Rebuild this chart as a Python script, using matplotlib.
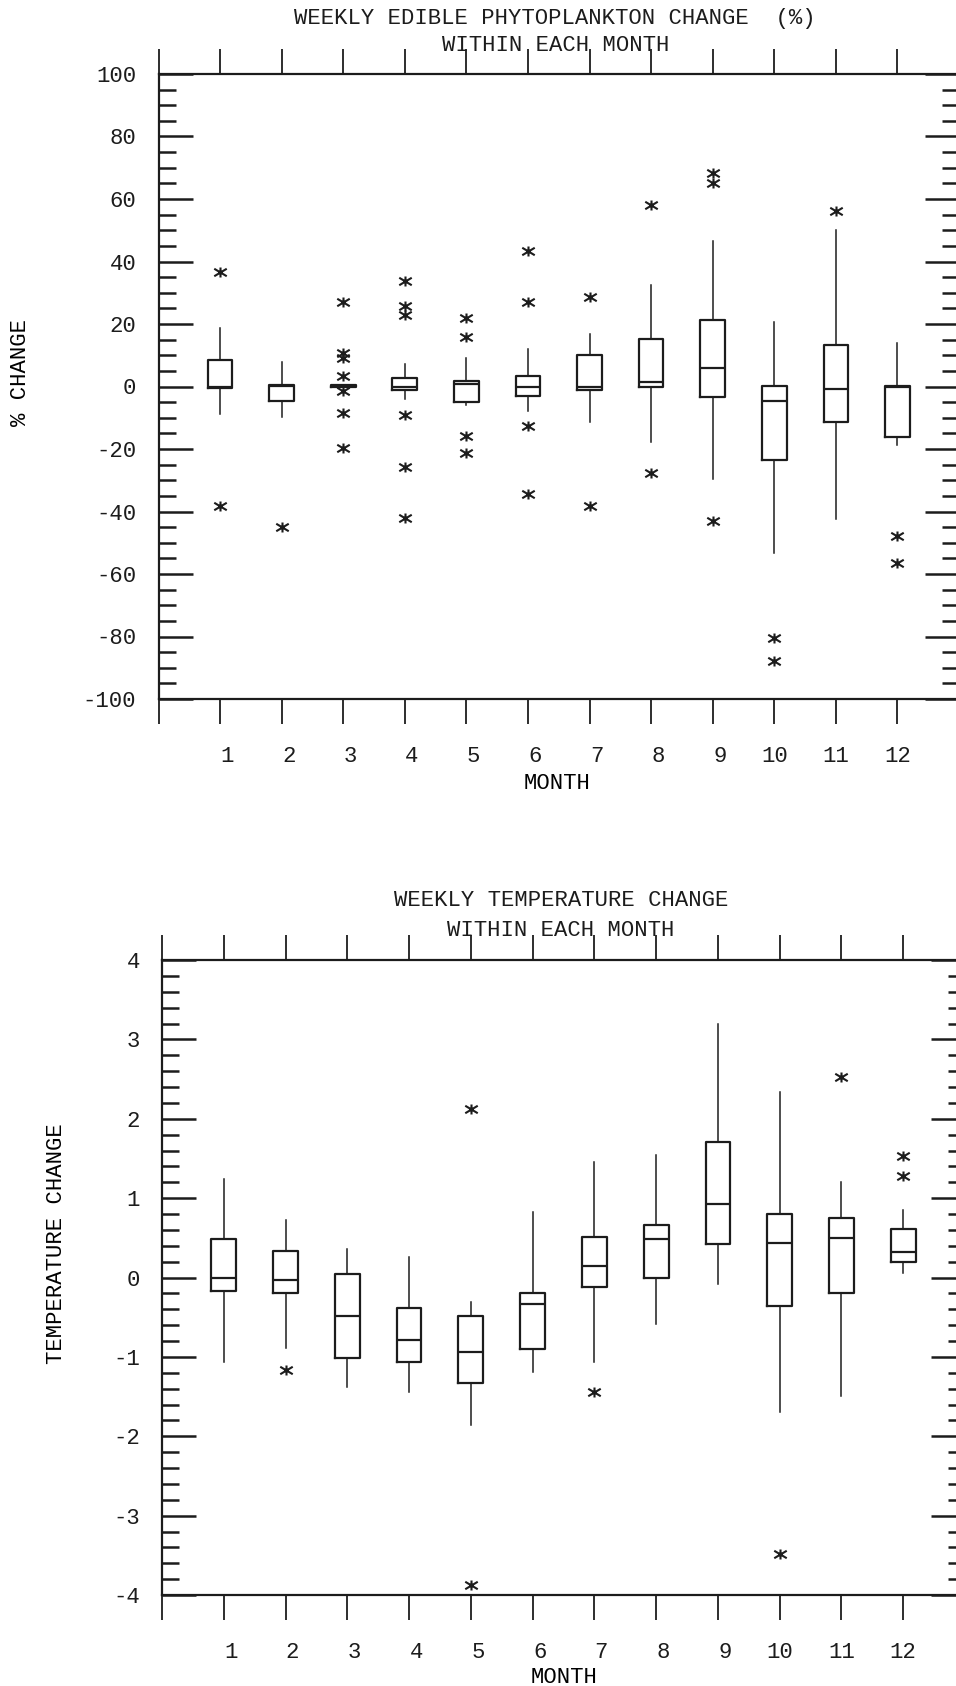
import matplotlib
matplotlib.use("Agg")
import matplotlib.pyplot as plt
import matplotlib.transforms as mtransforms
from matplotlib.path import Path
from matplotlib.ticker import FixedLocator, MultipleLocator, FuncFormatter

# ---------------------------------------------------------------- data
months = list(range(1, 13))
month_labels = [str(m) for m in months]

# weekly edible phytoplankton change (%), box statistics per month
phy_q1 = [-0.5, -4.7, -0.2, -1.0, -5.0, -2.9, -1.1, 0.0, -3.4, -23.5, -11.2, -16.2]
phy_med = [0.0, 0.2, 0.2, -0.2, 0.9, 0.0, 0.0, 1.6, 6.0, -4.6, -0.9, 0.0]
phy_q3 = [8.4, 0.6, 0.6, 2.8, 1.8, 3.4, 10.0, 15.2, 21.4, 0.3, 13.3, 0.2]
phy_lo = [-8.8, -9.7, -0.2, -4.0, -5.8, -7.9, -11.2, -17.8, -29.7, -53.4, -42.5, -18.7]
phy_hi = [18.8, 7.8, 0.6, 7.3, 9.1, 12.1, 16.8, 32.4, 46.5, 20.8, 50.0, 13.9]
phy_out = [
    [36.6, -38.3],
    [-44.8],
    [27.1, 10.6, 9.1, 3.4, -1.4, -8.5, -19.7],
    [33.8, 25.8, 22.8, -9.0, -25.6, -42.2],
    [21.8, 16.0, -15.8, -21.2],
    [43.2, 27.0, -12.5, -34.5],
    [28.6, -38.3],
    [58.0, -27.8],
    [68.4, 65.2, -43.0],
    [-80.5, -87.7],
    [56.1],
    [-47.8, -56.6],
]

# weekly temperature change, box statistics per month
tmp_q1 = [-0.17, -0.20, -1.02, -1.07, -1.33, -0.90, -0.12, -0.01, 0.42, -0.365, -0.19, 0.196]
tmp_med = [-0.01, -0.03, -0.49, -0.79, -0.94, -0.34, 0.15, 0.48, 0.93, 0.43, 0.50, 0.315]
tmp_q3 = [0.49, 0.33, 0.05, -0.38, -0.49, -0.20, 0.515, 0.66, 1.71, 0.80, 0.755, 0.607]
tmp_lo = [-1.06, -0.89, -1.38, -1.44, -1.86, -1.19, -1.06, -0.58, -0.08, -1.69, -1.49, 0.06]
tmp_hi = [1.235, 0.73, 0.36, 0.26, -0.31, 0.82, 1.45, 1.54, 3.20, 2.34, 1.20, 0.85]
tmp_out = [
    [],
    [-1.17],
    [],
    [],
    [2.12, -3.88],
    [],
    [-1.445],
    [],
    [],
    [-3.48],
    [2.53],
    [1.536, 1.28],
]

# ---------------------------------------------------------------- style
INK = "#1c1c1c"
FONT = ["Liberation Mono", "DejaVu Sans Mono"]
FS = 16
plt.rcParams["font.family"] = FONT
plt.rcParams["font.size"] = FS
plt.rcParams["text.color"] = INK
plt.rcParams["axes.edgecolor"] = INK
plt.rcParams["xtick.color"] = INK
plt.rcParams["ytick.color"] = INK

W, H = 956, 1686
fig = plt.figure(figsize=(W / 100, H / 100), dpi=100)
fig.patch.set_facecolor("white")

# asterisk marker: vertical stroke crossed by a flat "X"
star = Path(
    [(0, -0.8), (0, 0.8), (-1, -0.6), (1, 0.6), (-1, 0.6), (1, -0.6)],
    [Path.MOVETO, Path.LINETO, Path.MOVETO, Path.LINETO, Path.MOVETO, Path.LINETO],
)


def px_axes(left, right, top, bottom):
    return fig.add_axes([left / W, 1 - bottom / H, (right - left) / W, (bottom - top) / H])


def build_stats(q1, med, q3, lo, hi, out):
    return [
        dict(q1=a, med=b, q3=c, whislo=d, whishi=e, fliers=f)
        for a, b, c, d, e, f in zip(q1, med, q3, lo, hi, out)
    ]


def draw_panel(ax, stats, ylim, major, minor, ylabel, ylab_xy, xlab_xy):
    ax.bxp(
        stats,
        positions=months,
        widths=0.4,
        showcaps=False,
        manage_ticks=False,
        boxprops=dict(color=INK, linewidth=1.6),
        medianprops=dict(color=INK, linewidth=1.6),
        whiskerprops=dict(color=INK, linewidth=1.1),
        flierprops=dict(marker=star, markersize=9, markeredgewidth=1.5,
                        markeredgecolor=INK, markerfacecolor="none", linestyle="none"),
    )
    ax.set_xlim(0, 13)
    ax.set_ylim(*ylim)
    ax.xaxis.set_major_locator(FixedLocator(range(0, 14)))
    ax.set_xticklabels([""] + month_labels + [""])
    ax.yaxis.set_major_locator(MultipleLocator(major))
    ax.yaxis.set_minor_locator(MultipleLocator(minor))
    ax.yaxis.set_major_formatter(FuncFormatter(lambda v, p: f"{v:g}"))
    ax.tick_params(axis="x", which="major", direction="out", length=18, width=1.3,
                   top=True, bottom=True, labeltop=False, pad=16, labelsize=FS)
    ax.tick_params(axis="x", which="minor", bottom=False, top=False)
    ax.tick_params(axis="y", which="major", direction="in", length=24.5, width=1.8,
                   left=True, right=True, pad=16, labelsize=FS)
    ax.tick_params(axis="y", which="minor", direction="in", length=12.2, width=1.8,
                   left=True, right=True)
    for sp in ax.spines.values():
        sp.set_linewidth(1.6)

    # single-digit month labels sit slightly right of their ticks
    shift = mtransforms.ScaledTranslation(0.07, 0, fig.dpi_scale_trans)
    for lbl, m in zip(ax.get_xticklabels(), range(0, 14)):
        if 1 <= m <= 9:
            lbl.set_transform(lbl.get_transform() + shift)

    ax.set_ylabel(ylabel, va="center", fontsize=FS)
    ax.yaxis.set_label_coords(*ylab_xy)
    ax.set_xlabel("MONTH", va="baseline", fontsize=FS)
    ax.xaxis.set_label_coords(*xlab_xy)


# ---------------------------------------------------------------- upper panel
ax1 = px_axes(158.5, 959, 74, 699)
draw_panel(
    ax1,
    build_stats(phy_q1, phy_med, phy_q3, phy_lo, phy_hi, phy_out),
    (-100, 100), 20, 5, "% CHANGE",
    ((21 - 158.5) / 800.5, (699 - 373) / 625),
    ((557 - 158.5) / 800.5, (699 - 789) / 625),
)
fig.text(555 / W, 1 - 24 / H, "WEEKLY EDIBLE PHYTOPLANKTON CHANGE  (%)",
         ha="center", va="baseline", fontsize=FS)
fig.text(556 / W, 1 - 51 / H, "WITHIN EACH MONTH", ha="center", va="baseline", fontsize=FS)

# ---------------------------------------------------------------- lower panel
ax2 = px_axes(162, 965, 960, 1595)
draw_panel(
    ax2,
    build_stats(tmp_q1, tmp_med, tmp_q3, tmp_lo, tmp_hi, tmp_out),
    (-4, 4), 1, 0.2, "TEMPERATURE CHANGE",
    ((57 - 162) / 803, (1595 - 1244) / 635),
    ((564 - 162) / 803, (1595 - 1683) / 635),
)
fig.text(561 / W, 1 - 906 / H, "WEEKLY TEMPERATURE CHANGE", ha="center", va="baseline", fontsize=FS)
fig.text(561 / W, 1 - 936 / H, "WITHIN EACH MONTH", ha="center", va="baseline", fontsize=FS)

fig.savefig("out.png", dpi=100, facecolor="white")
